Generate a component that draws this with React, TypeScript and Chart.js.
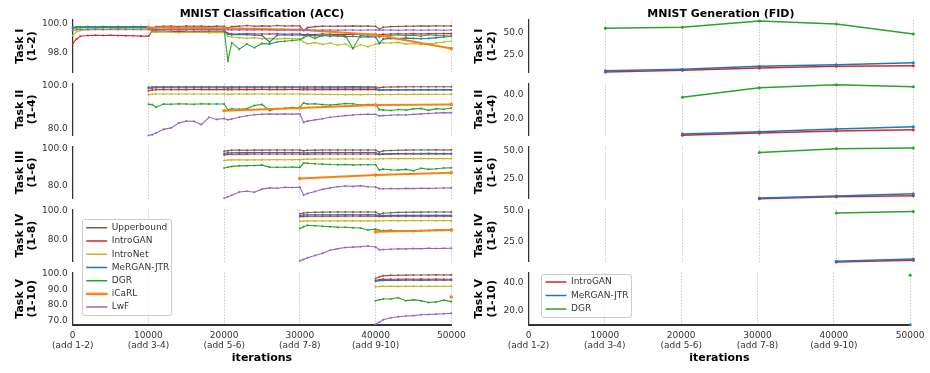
import React, { useEffect, useRef } from 'react';
import { Chart, registerables } from 'chart.js';
Chart.register(...registerables);

// ---------------- DATA ----------------
const ITERS = [0, 500, 1000, 2000, 3000, 4000, 5000, 6000, 7000, 8000, 9000,
  10000, 10500, 11000, 12000, 13000, 14000, 15000, 16000, 17000, 18000, 19000,
  20000, 20500, 21000, 22000, 23000, 24000, 25000, 26000, 27000, 28000, 29000,
  30000, 30500, 31000, 32000, 33000, 34000, 35000, 36000, 37000, 38000, 39000,
  40000, 40500, 41000, 42000, 43000, 44000, 45000, 46000, 47000, 48000, 49000,
  50000];
const ICARL_ITERS = [10000, 20000, 30000, 40000, 50000];
const FID_ITERS = [10000, 20000, 30000, 40000, 50000];

const X_TICKS = [0, 10000, 20000, 30000, 40000, 50000];
const X_TICK_LABELS = [['0', '(add 1-2)'], ['10000', '(add 3-4)'], ['20000', '(add 5-6)'], ['30000', '(add 7-8)'], ['40000', '(add 9-10)'], ['50000']];
const TASK_TITLES = [['Task I', '(1-2)'], ['Task II', '(1-4)'], ['Task III', '(1-6)'], ['Task IV', '(1-8)'], ['Task V', '(1-10)']];

const ACC_METHODS = ['Upperbound', 'IntroGAN', 'IntroNet', 'MeRGAN-JTR', 'DGR', 'iCaRL', 'LwF'];
const ACC_COLORS = ['#8c564b', '#d62728', '#bcbd22', '#1f77b4', '#2ca02c', '#ff7f0e', '#9467bd'];
const FID_METHODS = ['IntroGAN', 'MeRGAN-JTR', 'DGR'];
const FID_COLORS = ['#d62728', '#1f77b4', '#2ca02c'];

const ACC_RANGES = [[96.63, 100.28], [76.57, 101.35], [73.14, 101.46], [64.06, 101.1], [67.48, 100.44]];
const ACC_TICKS = [[98, 100], [80, 100], [80, 100], [80, 100], [70, 80, 90, 100]];
const FID_RANGES = [[5.84, 63.5], [5.19, 50.2], [6.79, 53.57], [8.59, 51.26], [9.68, 47.5]];
const FID_TICKS = [[25, 50], [20, 40], [25, 50], [25, 50], [20, 40]];

// Task I (1-2)
const T1_UPPER = [99.70, 99.74, 99.76, 99.77, 99.77, 99.78, 99.77, 99.78, 99.78, 99.79, 99.78,
  99.78, 99.66, 99.82, 99.84, 99.85, 99.83, 99.86, 99.84, 99.85, 99.83, 99.85,
  99.84, 99.70, 99.82, 99.85, 99.90, 99.84, 99.87, 99.85, 99.90, 99.86, 99.88,
  99.86, 99.55, 99.75, 99.82, 99.85, 99.84, 99.86, 99.85, 99.87, 99.85, 99.86,
  99.85, 99.65, 99.78, 99.82, 99.83, 99.85, 99.84, 99.87, 99.85, 99.88, 99.86,
  99.87];
const T1_INTROGAN = [98.65, 98.95, 99.15, 99.20, 99.21, 99.20, 99.21, 99.20, 99.19, 99.18, 99.16,
  99.16, 99.50, 99.52, 99.50, 99.48, 99.50, 99.47, 99.46, 99.47, 99.45, 99.46,
  99.45, 99.35, 99.32, 99.30, 99.33, 99.30, 99.31, 99.30, 99.32, 99.29, 99.30,
  99.30, 99.25, 99.28, 99.27, 99.30, 99.28, 99.27, 99.29, 99.28, 99.30, 99.28,
  99.29, 99.25, 99.28, 99.30, 99.32, 99.30, 99.33, 99.31, 99.33, 99.32, 99.34,
  99.33];
const T1_INTRONET = [99.20, 99.45, 99.55, 99.58, 99.60, 99.60, 99.61, 99.60, 99.60, 99.61, 99.60,
  99.60, 99.45, 99.42, 99.45, 99.43, 99.40, 99.42, 99.41, 99.43, 99.40, 99.42,
  99.40, 99.15, 99.10, 99.05, 99.00, 99.05, 98.98, 99.00, 98.95, 99.00, 98.97,
  98.98, 98.75, 98.62, 98.70, 98.58, 98.68, 98.52, 98.62, 98.30, 98.55, 98.42,
  98.60, 98.65, 98.70, 98.68, 98.72, 98.60, 98.65, 98.58, 98.62, 98.68, 98.75,
  98.80];
const T1_MERGAN = [99.78, 99.80, 99.81, 99.82, 99.81, 99.82, 99.81, 99.82, 99.81, 99.82, 99.82,
  99.82, 99.55, 99.60, 99.62, 99.60, 99.63, 99.60, 99.62, 99.61, 99.63, 99.60,
  99.60, 99.30, 99.25, 99.28, 99.25, 99.22, 99.20, 98.75, 99.22, 99.25, 99.22,
  99.25, 99.20, 99.22, 99.18, 99.20, 99.15, 99.18, 99.12, 99.15, 99.10, 99.12,
  99.10, 98.65, 98.95, 99.00, 98.98, 99.02, 99.00, 98.97, 99.00, 99.05, 99.10,
  99.15];
const T1_DGR = [99.72, 99.75, 99.76, 99.75, 99.76, 99.75, 99.77, 99.76, 99.75, 99.76, 99.75,
  99.75, 99.60, 99.65, 99.62, 99.66, 99.64, 99.62, 99.65, 99.63, 99.60, 99.62,
  99.60, 97.45, 98.70, 98.25, 98.60, 98.35, 98.65, 98.60, 98.75, 98.80, 98.85,
  98.90, 99.05, 99.20, 99.00, 99.20, 99.25, 99.15, 99.22, 98.30, 99.20, 99.25,
  99.22, 99.10, 99.15, 99.20, 99.25, 99.18, 99.22, 99.15, 99.25, 99.20, 99.18,
  99.15];
const T1_LWF = [99.55, 99.60, 99.62, 99.64, 99.65, 99.64, 99.65, 99.66, 99.65, 99.64, 99.65,
  99.65, 99.60, 99.62, 99.60, 99.61, 99.60, 99.62, 99.60, 99.61, 99.60, 99.61,
  99.60, 99.60, 99.58, 99.59, 99.58, 99.60, 99.58, 99.59, 99.57, 99.58, 99.58,
  99.58, 99.57, 99.58, 99.57, 99.58, 99.58, 99.57, 99.58, 99.58, 99.57, 99.58,
  99.58, 99.57, 99.58, 99.58, 99.57, 99.58, 99.58, 99.57, 99.58, 99.58, 99.57,
  99.58];
const T1_ICARL = [99.75, 99.70, 99.60, 99.25, 98.30];

// Task II (1-4)
const T2_UPPER = [99.40, 99.55, 99.60, 99.65, 99.60, 99.65, 99.62, 99.66, 99.63, 99.65, 99.64,
  99.65, 99.45, 99.60, 99.65, 99.66, 99.64, 99.67, 99.65, 99.66, 99.68, 99.66,
  99.67, 99.50, 99.62, 99.66, 99.65, 99.68, 99.66, 99.67, 99.69, 99.67, 99.68,
  99.68, 99.20, 99.45, 99.55, 99.60, 99.62, 99.64, 99.63, 99.66, 99.65, 99.67,
  99.66];
const T2_INTROGAN = [97.80, 98.10, 98.20, 98.30, 98.25, 98.30, 98.28, 98.32, 98.30, 98.31, 98.30,
  98.30, 98.20, 98.25, 98.30, 98.28, 98.30, 98.32, 98.30, 98.31, 98.30, 98.32,
  98.30, 98.20, 98.25, 98.28, 98.30, 98.29, 98.31, 98.30, 98.28, 98.30, 98.29,
  98.30, 98.00, 98.15, 98.20, 98.22, 98.20, 98.23, 98.21, 98.22, 98.24, 98.22,
  98.23];
const T2_INTRONET = [95.90, 96.10, 96.20, 96.25, 96.20, 96.25, 96.22, 96.25, 96.20, 96.23, 96.22,
  96.20, 96.10, 96.15, 96.20, 96.18, 96.20, 96.22, 96.20, 96.18, 96.20, 96.22,
  96.20, 96.10, 96.15, 96.10, 96.05, 96.00, 95.95, 95.90, 95.95, 95.90, 95.95,
  95.95, 95.90, 95.95, 96.00, 96.05, 96.00, 96.05, 96.10, 96.05, 96.08, 96.10,
  96.10];
const T2_MERGAN = [98.90, 99.10, 99.15, 99.20, 99.18, 99.20, 99.19, 99.21, 99.20, 99.20, 99.19,
  99.20, 99.05, 99.12, 99.15, 99.14, 99.16, 99.15, 99.14, 99.16, 99.15, 99.14,
  99.15, 99.00, 99.08, 99.10, 99.12, 99.10, 99.11, 99.10, 99.12, 99.10, 99.11,
  99.10, 98.00, 98.10, 98.15, 98.12, 98.15, 98.14, 98.16, 98.15, 98.17, 98.16,
  98.16];
const T2_DGR = [91.40, 91.20, 90.00, 91.50, 91.40, 91.60, 91.50, 91.40, 91.60, 91.50, 91.50,
  91.50, 88.70, 89.20, 89.00, 89.30, 90.80, 91.30, 88.40, 89.30, 89.50, 89.80,
  89.90, 92.00, 91.50, 91.60, 91.20, 91.00, 91.30, 91.70, 91.60, 91.00, 91.20,
  91.30, 88.80, 88.70, 88.40, 88.90, 88.60, 89.20, 89.40, 88.50, 89.30, 89.00,
  89.60];
const T2_LWF = [76.60, 77.00, 77.80, 79.50, 80.20, 82.50, 83.40, 83.30, 81.80, 85.20, 84.20,
  84.60, 84.00, 84.40, 85.20, 85.90, 86.40, 86.60, 86.80, 86.70, 86.80, 86.70,
  86.80, 82.80, 83.40, 84.00, 84.50, 85.20, 85.60, 86.00, 86.30, 86.50, 86.60,
  86.60, 85.80, 86.00, 86.20, 86.40, 86.30, 86.60, 86.80, 87.00, 87.20, 87.40,
  87.30];
const T2_ICARL = [88.3, 89.6, 91.0, 91.3];

// Task III (1-6)
const T3_UPPER = [98.80, 99.10, 99.30, 99.40, 99.35, 99.45, 99.40, 99.50, 99.45, 99.50, 99.48,
  99.50, 99.00, 99.30, 99.40, 99.45, 99.42, 99.50, 99.48, 99.50, 99.46, 99.50,
  99.50, 98.30, 99.00, 99.20, 99.35, 99.40, 99.45, 99.50, 99.48, 99.52, 99.50,
  99.55];
const T3_INTROGAN = [96.80, 97.10, 97.20, 97.30, 97.25, 97.30, 97.28, 97.30, 97.32, 97.30, 97.30,
  97.30, 97.20, 97.25, 97.30, 97.28, 97.30, 97.32, 97.30, 97.30, 97.31, 97.30,
  97.30, 97.10, 97.20, 97.25, 97.30, 97.28, 97.30, 97.30, 97.32, 97.30, 97.30,
  97.30];
const T3_INTRONET = [93.80, 94.00, 94.10, 94.15, 94.10, 94.20, 94.15, 94.20, 94.25, 94.20, 94.25,
  94.25, 94.50, 94.60, 94.55, 94.60, 94.62, 94.60, 94.65, 94.60, 94.62, 94.60,
  94.60, 94.70, 94.75, 94.80, 94.78, 94.80, 94.82, 94.80, 94.85, 94.80, 94.82,
  94.80];
const T3_MERGAN = [97.60, 97.90, 98.00, 98.10, 98.05, 98.10, 98.08, 98.10, 98.12, 98.10, 98.10,
  98.10, 97.95, 98.00, 98.05, 98.10, 98.08, 98.10, 98.10, 98.12, 98.10, 98.10,
  98.10, 97.00, 97.40, 97.50, 97.55, 97.60, 97.58, 97.60, 97.62, 97.60, 97.60,
  97.60];
const T3_DGR = [89.70, 90.10, 90.60, 90.90, 91.00, 91.10, 91.30, 90.20, 90.10, 90.10, 90.20,
  90.10, 92.40, 92.30, 92.00, 91.80, 91.60, 91.50, 91.60, 91.40, 91.50, 91.50,
  91.50, 88.60, 89.20, 88.80, 88.60, 89.00, 88.30, 89.60, 89.00, 89.30, 89.70,
  89.80];
const T3_LWF = [73.40, 74.20, 75.00, 76.80, 77.20, 76.60, 78.30, 79.00, 78.80, 79.30, 79.20,
  79.30, 75.20, 76.00, 77.00, 78.20, 79.00, 79.60, 80.00, 79.80, 80.20, 79.60,
  79.50, 78.60, 78.50, 78.60, 78.50, 78.70, 78.60, 78.80, 78.70, 78.80, 78.90,
  79.00];
const T3_ICARL = [84.0, 85.9, 87.1];

// Task IV (1-8)
const T4_UPPER = [98.00, 98.60, 98.90, 99.10, 99.20, 99.25, 99.30, 99.28, 99.30, 99.32, 99.30,
  99.30, 97.60, 98.40, 98.80, 99.00, 99.10, 99.20, 99.20, 99.25, 99.30, 99.28,
  99.30];
const T4_INTROGAN = [95.90, 96.20, 96.30, 96.40, 96.35, 96.40, 96.38, 96.40, 96.42, 96.40, 96.40,
  96.40, 96.10, 96.20, 96.30, 96.30, 96.32, 96.30, 96.35, 96.30, 96.32, 96.30,
  96.30];
const T4_INTRONET = [92.70, 92.90, 93.00, 93.00, 92.95, 93.00, 93.02, 93.00, 93.05, 93.00, 93.02,
  93.00, 93.10, 93.15, 93.20, 93.18, 93.20, 93.22, 93.20, 93.25, 93.20, 93.22,
  93.20];
const T4_MERGAN = [96.90, 97.20, 97.30, 97.40, 97.38, 97.40, 97.40, 97.42, 97.40, 97.40, 97.42,
  97.40, 96.70, 96.85, 96.90, 96.90, 96.92, 96.90, 96.95, 96.90, 96.92, 96.90,
  96.90];
const T4_DGR = [87.60, 88.80, 89.90, 89.60, 89.20, 88.90, 88.60, 88.50, 88.20, 88.00, 86.60,
  87.20, 86.40, 86.20, 86.40, 85.80, 86.00, 85.60, 86.00, 86.20, 86.60, 86.80,
  86.90];
const T4_LWF = [64.80, 65.80, 67.00, 68.50, 70.20, 72.30, 73.40, 74.20, 74.50, 74.80, 75.30,
  74.50, 72.60, 72.80, 73.00, 73.30, 73.20, 73.50, 73.40, 73.60, 73.50, 73.60,
  73.70];
const T4_ICARL = [85.3, 86.5];

// Task V (1-10)
const T5_UPPER = [96.80, 97.80, 98.40, 98.70, 98.80, 98.85, 98.90, 98.90, 98.95, 99.00, 98.95, 99.00];
const T5_INTROGAN = [95.50, 96.00, 96.20, 96.30, 96.30, 96.32, 96.30, 96.35, 96.30, 96.32, 96.30, 96.30];
const T5_INTRONET = [91.50, 91.70, 91.80, 91.80, 91.75, 91.80, 91.80, 91.82, 91.80, 91.80, 91.85, 91.80];
const T5_MERGAN = [95.00, 95.40, 95.50, 95.60, 95.55, 95.60, 95.60, 95.58, 95.60, 95.60, 95.62, 95.60];
const T5_DGR = [82.80, 83.40, 83.80, 83.90, 84.60, 82.80, 83.30, 82.80, 81.60, 82.00, 83.10, 82.20];
const T5_LWF = [68.00, 69.30, 70.80, 72.00, 72.70, 73.10, 73.40, 73.90, 74.10, 74.30, 74.60, 74.80];
const T5_ICARL = [85.1];

// FID
const F1_INTROGAN = [6.3, 8.1, 10.7, 12.6, 13.2];
const F1_MERGAN = [7.7, 9.3, 12.6, 14.3, 16.5];
const F1_DGR = [54.4, 55.5, 62.4, 59.1, 48.1];
const F2_INTROGAN = [5.4, 7.4, 9.1, 10.2];
const F2_MERGAN = [6.5, 8.5, 10.8, 12.8];
const F2_DGR = [38.0, 46.3, 48.8, 47.1];
const F3_INTROGAN = [6.8, 8.6, 9.5];
const F3_MERGAN = [7.4, 9.2, 11.2];
const F3_DGR = [48.0, 51.4, 52.0];
const F4_INTROGAN = [8.4, 9.8];
const F4_MERGAN = [9.0, 10.9];
const F4_DGR = [48.4, 49.5];
const F5_INTROGAN = [8.5];
const F5_MERGAN = [9.9];
const F5_DGR = [45.6];

const ACC_SERIES = [
  [T1_UPPER, T1_INTROGAN, T1_INTRONET, T1_MERGAN, T1_DGR, T1_ICARL, T1_LWF],
  [T2_UPPER, T2_INTROGAN, T2_INTRONET, T2_MERGAN, T2_DGR, T2_ICARL, T2_LWF],
  [T3_UPPER, T3_INTROGAN, T3_INTRONET, T3_MERGAN, T3_DGR, T3_ICARL, T3_LWF],
  [T4_UPPER, T4_INTROGAN, T4_INTRONET, T4_MERGAN, T4_DGR, T4_ICARL, T4_LWF],
  [T5_UPPER, T5_INTROGAN, T5_INTRONET, T5_MERGAN, T5_DGR, T5_ICARL, T5_LWF],
];
const FID_SERIES = [
  [F1_INTROGAN, F1_MERGAN, F1_DGR],
  [F2_INTROGAN, F2_MERGAN, F2_DGR],
  [F3_INTROGAN, F3_MERGAN, F3_DGR],
  [F4_INTROGAN, F4_MERGAN, F4_DGR],
  [F5_INTROGAN, F5_MERGAN, F5_DGR],
];

// ---------------- LAYOUT ----------------
const PAGE_W = 930;
const PAGE_H = 373;
const ROW_TOP = [20, 83.15, 146.3, 209.45, 272.6];
const ROW_BOTTOM = [72.4, 135.55, 198.7, 261.85, 325];
const Y_AXIS_W = 60;
const X_AXIS_H = 39.9;
const GRID_COLOR = '#bdbdbd';
const TEXT_COLOR = '#333333';

Chart.defaults.font.family = "'DejaVu Sans', sans-serif";
Chart.defaults.color = TEXT_COLOR;

function panelConfig(p: any) {
  const { row, datasets, range, ticks, plotLeft, plotRight, colTitle, titlePad } = p;
  const isLast = row === 4;
  const xH = isLast ? X_AXIS_H : 0;
  const scales: any = {
    x: {
      type: 'linear', position: 'bottom', min: 0, max: 50000,
      afterBuildTicks: (s: any) => { s.ticks = X_TICKS.map((v) => ({ value: v })); },
      afterFit: (s: any) => { s.height = xH; },
      grid: { display: true, drawOnChartArea: true, drawTicks: false, color: GRID_COLOR, lineWidth: 0.8 },
      border: { display: isLast, color: '#333333', width: 2, dash: [1.5, 1.5] },
      ticks: {
        display: isLast, autoSkip: false, maxRotation: 0, minRotation: 0, padding: 5.5,
        font: { size: 9, lineHeight: 1.15 }, color: TEXT_COLOR,
        callback: (_v: any, i: number) => X_TICK_LABELS[i],
      },
      title: {
        display: isLast, text: 'iterations', color: '#000',
        font: { size: 11, weight: 'bold', lineHeight: 1.2 }, padding: { top: 0, bottom: 0 },
      },
    },
    y: {
      type: 'linear', position: 'left', min: range[0], max: range[1],
      afterBuildTicks: (s: any) => { s.ticks = ticks.map((v: number) => ({ value: v })); },
      afterFit: (s: any) => { s.width = Y_AXIS_W; },
      grid: { display: false, drawTicks: false },
      border: { display: true, color: '#333333', width: 1.25 },
      ticks: { padding: 5, font: { size: 9 }, color: TEXT_COLOR, callback: (v: any) => Number(v).toFixed(1) },
      title: {
        display: true, text: TASK_TITLES[row], color: '#000',
        font: { size: 11, weight: 'bold', lineHeight: 1.136 }, padding: { top: titlePad, bottom: 0 },
      },
    },
  };
  if (row === 0) {
    scales.xTop = {
      type: 'linear', axis: 'x', position: 'top', min: 0, max: 1,
      afterFit: (s: any) => { s.height = ROW_TOP[0]; },
      ticks: { display: false }, grid: { display: false, drawTicks: false }, border: { display: false },
      title: {
        display: true, text: colTitle, color: '#000',
        font: { size: 11, weight: 'bold', lineHeight: 1.2 }, padding: { top: 7.4, bottom: 0 },
      },
    };
  }
  return {
    type: 'line',
    data: { datasets },
    options: {
      responsive: false, animation: false, events: [],
      layout: {
        autoPadding: false,
        padding: {
          left: plotLeft - Y_AXIS_W,
          right: PAGE_W - plotRight,
          top: row === 0 ? 0 : ROW_TOP[row],
          bottom: PAGE_H - ROW_BOTTOM[row] - xH,
        },
      },
      plugins: { legend: { display: false }, tooltip: { enabled: false } },
      scales,
    },
  };
}

function makeDataset(label: string, color: string, iters: number[], values: number[], idx: number, bw: number, pr: number, clip: any) {
  return {
    label,
    data: values.map((v, i) => ({ x: iters[i], y: v })),
    borderColor: color, backgroundColor: color, borderWidth: bw,
    pointRadius: pr, pointHoverRadius: 0, pointBorderWidth: 0, pointBackgroundColor: color,
    tension: 0, fill: false, clip, order: -idx, xAxisID: 'x', yAxisID: 'y',
  };
}

function buildPanels() {
  const cfgs: any[] = [];
  for (let r = 0; r < 5; r++) {
    const ds = ACC_SERIES[r].map((vals, i) => {
      const isIcarl = ACC_METHODS[i] === 'iCaRL';
      const iters = isIcarl ? ICARL_ITERS.slice(r) : ITERS.slice(r * 11);
      return makeDataset(ACC_METHODS[i], ACC_COLORS[i], iters, vals, i, isIcarl ? 2 : 1.1, isIcarl ? 1.8 : 1, 2);
    });
    cfgs.push(panelConfig({ row: r, datasets: ds, range: ACC_RANGES[r], ticks: ACC_TICKS[r], plotLeft: 72.7, plotRight: 451.3, colTitle: 'MNIST Classification (ACC)', titlePad: 1.05 }));
  }
  for (let r = 0; r < 5; r++) {
    const ds = FID_SERIES[r].map((vals, i) =>
      makeDataset(FID_METHODS[i], FID_COLORS[i], FID_ITERS.slice(r), vals, i, 1.5, 1.5, false));
    cfgs.push(panelConfig({ row: r, datasets: ds, range: FID_RANGES[r], ticks: FID_TICKS[r], plotLeft: 528.5, plotRight: 913.3, colTitle: 'MNIST Generation (FID)', titlePad: 4.75 }));
  }
  return cfgs;
}

function legendConfig(names: string[], colors: string[], pad: number) {
  return {
    type: 'line',
    data: { datasets: names.map((n, i) => ({ label: n, data: [], borderColor: colors[i], backgroundColor: colors[i] })) },
    options: {
      responsive: false, animation: false, events: [],
      layout: { autoPadding: false, padding: 0 },
      scales: { x: { display: false }, y: { display: false } },
      plugins: {
        tooltip: { enabled: false },
        legend: {
          display: true, position: 'left', align: 'start', maxWidth: 190,
          labels: {
            font: { size: 9 }, color: TEXT_COLOR, boxWidth: 21, boxHeight: 1.5, padding: pad,
            generateLabels: () => names.map((n, i) => ({
              text: n, fillStyle: colors[i], strokeStyle: colors[i],
              lineWidth: n === 'iCaRL' ? 1 : 0, hidden: false, datasetIndex: i, fontColor: TEXT_COLOR,
            })),
          },
        },
      },
    },
  };
}

const legendBoxStyle = (left: number, top: number, w: number, h: number): any => ({
  position: 'absolute', left, top, width: w, height: h, boxSizing: 'border-box',
  border: '1px solid #cccccc', borderRadius: 3, background: 'rgba(255,255,255,0.85)', overflow: 'hidden',
});

export default function App() {
  const refs = useRef<(HTMLCanvasElement | null)[]>([]);
  const legA = useRef<HTMLCanvasElement | null>(null);
  const legF = useRef<HTMLCanvasElement | null>(null);

  useEffect(() => {
    const charts: Chart[] = [];
    const cfgs = buildPanels();
    cfgs.forEach((cfg, i) => {
      const c = refs.current[i];
      if (c) charts.push(new Chart(c, cfg as any));
    });
    if (legA.current) charts.push(new Chart(legA.current, legendConfig(ACC_METHODS, ACC_COLORS, 4.23) as any));
    if (legF.current) charts.push(new Chart(legF.current, legendConfig(FID_METHODS, FID_COLORS, 4.5) as any));
    return () => charts.forEach((c) => c.destroy());
  }, []);

  return (
    <div style={{ position: 'absolute', left: 0, top: 0, width: PAGE_W, height: PAGE_H, background: '#fff', overflow: 'hidden' }}>
      {Array.from({ length: 10 }).map((_, i) => (
        <canvas
          key={i}
          ref={(el) => { refs.current[i] = el; }}
          width={PAGE_W}
          height={PAGE_H}
          style={{ position: 'absolute', left: 0, top: 0, width: PAGE_W, height: PAGE_H }}
        />
      ))}
      <div style={legendBoxStyle(82, 219, 90, 97)}>
        <canvas ref={legA} width={200} height={120} style={{ position: 'absolute', left: -1, top: -1, width: 200, height: 120 }} />
      </div>
      <div style={legendBoxStyle(541, 274, 91, 44)}>
        <canvas ref={legF} width={200} height={120} style={{ position: 'absolute', left: -1, top: -2, width: 200, height: 120 }} />
      </div>
    </div>
  );
}
